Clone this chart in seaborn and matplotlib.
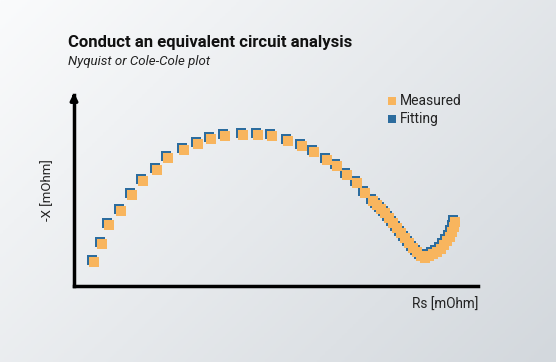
import numpy as np
import pandas as pd
import matplotlib.pyplot as plt
import seaborn as sns

# Nyquist data (arbitrary mOhm units)
meas_x = [20, 28, 35, 47, 58, 69, 83, 94, 110, 124, 137, 151, 169, 184, 198, 214, 228, 240,
          253, 263, 273, 283, 291, 299, 303, 307, 311, 315, 319, 323, 327, 331, 335, 339,
          343, 347, 351, 355, 359, 363, 367, 370, 373, 376, 378, 380, 381]
meas_y = [24, 42, 61, 75, 91, 105, 116, 128, 136, 142, 147, 150, 151, 151, 150, 145, 140, 134,
          126, 120, 111, 103, 93, 85, 81, 77, 73, 68, 63, 58, 53, 48, 43, 38,
          34, 30, 28, 30, 32, 34, 37, 41, 45, 49, 54, 59, 64]
fit_x = [18, 26, 33, 45, 56, 67, 81, 92, 108, 122, 135, 149, 167, 182, 196, 212, 226, 238,
         251, 261, 271, 281, 289, 297, 301, 305, 309, 313, 317, 321, 325, 329, 333, 337,
         341, 345, 349, 353, 357, 361, 365, 368, 371, 374, 376, 378, 379]
fit_y = [26, 44, 63, 77, 93, 107, 118, 130, 138, 144, 149, 152, 153, 153, 152, 147, 142, 136,
         128, 122, 113, 105, 95, 87, 83, 79, 75, 70, 65, 60, 55, 50, 45, 40,
         36, 32, 30, 32, 34, 36, 39, 43, 47, 51, 56, 61, 66]

orange = "#f8b55e"
blue = "#2c6c9e"

sns.set_theme(style="white")
plt.rcParams['font.family'] = ['Roboto', 'DejaVu Sans']

fig = plt.figure(figsize=(5.56, 3.62), dpi=100)

# gradient background
bg = fig.add_axes([0, 0, 1, 1])
gx, gy = np.meshgrid(np.linspace(0, 1, 200), np.linspace(0, 1, 200))
g = 0.6 * gx + 0.4 * gy
bg.imshow(g, cmap=sns.blend_palette(["#fafbfc", "#d3d8dd"], as_cmap=True),
          aspect="auto", extent=[0, 1, 0, 1], origin="upper")
bg.axis("off")

ax = fig.add_axes([74 / 556, 76 / 362, 404 / 556, 191 / 362])
ax.patch.set_alpha(0)

df_fit = pd.DataFrame({"x": fit_x, "y": fit_y})
df_meas = pd.DataFrame({"x": meas_x, "y": meas_y})
sns.scatterplot(data=df_fit, x="x", y="y", marker="s", s=44, color=blue, linewidth=0, ax=ax)
sns.scatterplot(data=df_meas, x="x", y="y", marker="s", s=44, color=orange, linewidth=0, ax=ax)

ax.set_xlim(0, 404)
ax.set_ylim(0, 191)
ax.set_xticks([])
ax.set_yticks([])
ax.set_xlabel("")
ax.set_ylabel("")
for s in ["top", "right"]:
    ax.spines[s].set_visible(False)
for s in ["left", "bottom"]:
    ax.spines[s].set_color("black")
    ax.spines[s].set_linewidth(2.5)
ax.annotate("", xy=(0, 196), xytext=(0, 185), annotation_clip=False,
            arrowprops=dict(arrowstyle="-|>", color="black", lw=2.5, mutation_scale=10))

ax.text(-0.065, 0.5, "-X [mOhm]", rotation=90, transform=ax.transAxes,
        ha="center", va="center", fontsize=9.5, color="#222222")
ax.text(1.0, -0.1, "Rs [mOhm]", transform=ax.transAxes,
        ha="right", va="center", fontsize=9.8, color="#222222")

# legend
ax.scatter([318], [185], marker="s", s=30, color=orange, linewidth=0, clip_on=False)
ax.scatter([318], [167], marker="s", s=30, color=blue, linewidth=0, clip_on=False)
ax.text(326, 185, "Measured", ha="left", va="center", fontsize=10, color="#222222")
ax.text(326, 167, "Fitting", ha="left", va="center", fontsize=10, color="#222222")

fig.text(68 / 556, 1 - 42 / 362, "Conduct an equivalent circuit analysis",
         fontsize=12, fontweight="bold", color="#111111", va="center")
fig.text(68 / 556, 1 - 62 / 362, "Nyquist or Cole-Cole plot",
         fontsize=9.5, style="italic", color="#222222", va="center")

fig.savefig("out.png", dpi=100)
